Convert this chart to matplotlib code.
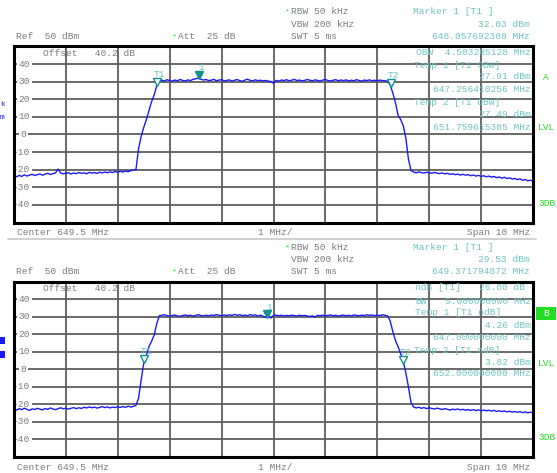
import numpy as np
import matplotlib
matplotlib.use("Agg")
import matplotlib.pyplot as plt
from matplotlib.transforms import ScaledTranslation, blended_transform_factory
from matplotlib.patches import Rectangle
from matplotlib.lines import Line2D

# ---------------- data ----------------
center_mhz = 649.5
span_mhz = 10.0
ref_level = 50
ytick_values = [40, 30, 20, 10, 0, -10, -20, -30, -40]

trace_top = [
    -23.5, -24.0, -23.2, -23.8, -22.9, -23.6, -23.0, -22.6, -23.3, -22.8,
    -22.4, -23.1, -22.5, -22.0, -22.7, -22.2, -21.8, -19.6, -21.9, -22.3,
    -22.0, -21.7, -22.4, -21.9, -22.2, -21.6, -22.0, -21.8, -22.3, -21.5,
    -21.9, -21.6, -22.1, -21.4, -21.8, -21.3, -21.7, -21.2, -21.6, -21.0,
    -21.4, -20.9, -21.3, -20.7, -21.1, -20.5, -20.2,
    -19.8,
    -8.0, -1.0, 4.0, 8.5, 13.5, 18.5, 22.5, 27.5,
    30.2, 30.8, 30.4, 31.1, 30.6, 30.3, 30.9, 30.5, 31.2, 30.7,
    30.4, 31.0, 30.6, 31.3, 31.6, 32.0, 31.4, 30.9, 31.2, 30.6,
    30.8, 31.3, 30.5, 30.9, 31.1, 30.4, 30.7, 31.0, 30.3, 30.8,
    31.2, 30.6, 30.2, 30.9, 31.4, 30.7, 30.5, 31.0, 30.6, 30.8,
    30.4, 30.7, 30.3, 30.1, 29.0, 30.7, 30.3, 30.9, 30.6, 31.1,
    30.5, 30.8, 31.3, 30.6, 30.9, 30.4, 30.7, 31.2, 30.8, 30.5,
    31.0, 30.7, 30.3, 30.9, 31.2, 30.6, 30.4, 30.8, 31.1, 30.5,
    30.9, 30.6, 31.0, 30.4, 30.8, 30.5, 31.1, 30.7, 30.3, 30.9,
    30.6, 31.0, 30.5, 30.8, 30.4, 30.9, 30.6, 30.5, 30.2,
    28.0, 23.5, 18.0, 11.0, 8.5, 5.0, -2.0, -14.0, -20.5,
    -21.3, -21.8, -21.2, -21.6, -21.9, -21.4, -21.7, -22.0, -21.5, -21.9,
    -22.2, -21.8, -22.4, -22.0, -22.6, -22.3, -22.8, -22.5, -23.0, -22.6,
    -23.1, -22.8, -23.4, -23.0, -23.6, -23.2, -23.8, -23.4, -24.0, -23.6,
    -24.2, -23.8, -24.5, -24.1, -24.8, -24.3, -25.0, -24.6, -25.3, -24.9,
    -25.6, -25.2, -26.0, -25.5, -26.3, -25.9, -26.6,
]

trace_bottom = [
    -22.6, -23.2, -22.4, -23.0, -22.1, -22.8, -23.4, -22.5, -22.9, -22.2,
    -22.7, -23.1, -22.3, -22.8, -22.0, -22.6, -23.0, -22.4, -21.9, -22.5,
    -22.1, -22.7, -22.2, -21.8, -22.4, -21.9, -22.3, -21.6, -22.0, -21.4,
    -21.9, -21.5, -22.1, -21.7, -21.2, -21.8, -21.4, -22.0, -21.5, -21.8,
    -21.3, -21.7, -21.2, -21.6, -21.0, -21.5, -21.1,
    -20.5,
    -16.5, -6.0, 3.5, 8.0, 13.0, 16.0, 19.5, 26.0,
    30.6, 30.9, 31.2, 30.7, 30.4, 30.8, 31.0, 30.5, 30.3, 30.7,
    31.1, 30.6, 30.9, 30.4, 30.8, 31.2, 30.7, 30.5, 30.9, 30.6,
    31.0, 30.8, 31.3, 30.9, 30.6, 31.1, 30.7, 31.2, 30.8, 31.4,
    30.9, 31.2, 30.7, 31.0, 30.6, 31.3, 30.8, 31.1, 30.5, 30.9,
    30.3, 29.6, 30.7, 29.3, 30.8, 31.0, 30.6, 30.9, 30.5, 30.8,
    30.6, 31.0, 30.7, 30.4, 30.9, 30.6, 30.8, 30.5, 30.2, 30.6,
    29.8, 30.9, 30.6, 31.0, 30.5, 30.8, 31.1, 30.6, 30.9, 30.4,
    30.8, 31.0, 30.6, 30.9, 30.5, 31.1, 30.8, 30.6, 31.0, 30.7,
    31.2, 30.8, 31.1, 30.6, 31.0, 30.7, 31.2, 30.9, 30.5,
    27.5, 21.5, 16.5, 13.0, 9.0, 4.5, -2.0, -10.0, -19.0,
    -21.5, -22.0, -21.6, -22.2, -21.8, -22.4, -21.9, -22.3, -22.6, -22.1,
    -22.5, -22.9, -22.4, -22.8, -23.2, -22.7, -23.0, -22.6, -23.1, -22.8,
    -23.3, -22.9, -23.4, -23.0, -23.5, -23.1, -23.7, -23.2, -23.6, -23.3,
    -23.8, -23.4, -24.0, -23.6, -24.1, -23.7, -24.3, -23.9, -24.4, -24.0,
    -24.5, -24.1, -24.7, -24.3, -24.8, -24.4, -24.9,
]

top_marker_names = ["1", "T1", "T2"]
top_marker_freqs = [648.057692308, 647.256410256, 651.759615385]
top_marker_levels = [32.03, 27.91, 27.49]

bottom_marker_names = ["1", "T1", "T2"]
bottom_marker_freqs = [649.371794872, 647.0, 652.0]
bottom_marker_levels = [29.53, 4.26, 3.82]

# ---------------- style ----------------
W, H = 557, 473
FONT = "Liberation Mono"
FS = 6.8
GREY = "#7c7c7c"
TEAL = "#6cc4c4"
MK = "#109090"
GREEN = "#22dd22"
BLUE = "#1a1aff"

plt.rcParams["font.family"] = [FONT, "DejaVu Sans Mono"]

fig = plt.figure(figsize=(W / 100, H / 100), dpi=100)
fig.patch.set_facecolor("white")


def T(x, y, s, color=GREY, ha="left", fs=FS, **kw):
    fig.text(x / W, 1 - y / H, s, color=color, ha=ha, va="center",
             fontsize=fs, family=[FONT, "DejaVu Sans Mono"], **kw)


def make_axes(top_px, bot_px):
    return fig.add_axes([14 / W, 1 - bot_px / H, 519 / W, (bot_px - top_px) / H])


def draw_panel(ax, levels, names, mfreqs, mlevels):
    f0 = center_mhz - span_mhz / 2
    f1 = center_mhz + span_mhz / 2
    freqs = np.linspace(f0, f1, len(levels))
    ax.plot(freqs, levels, color=BLUE, lw=1.0, zorder=3)
    ax.set_xlim(f0, f1)
    ax.set_ylim(ref_level - 100, ref_level)
    ax.set_xticks(np.arange(f0, f1 + 0.01, span_mhz / 10))
    ax.set_yticks(ytick_values)
    ax.tick_params(length=0, labelleft=False, labelbottom=False)
    ax.grid(True, color="#5e5e5e", lw=1.3)
    ax.set_axisbelow(True)
    for sp in ax.spines.values():
        sp.set_linewidth(2.2)
        sp.set_color("black")
        sp.set_zorder(4)
    tr = blended_transform_factory(ax.transAxes, ax.transData)
    for v in ytick_values:
        xr = 30 if v != 0 else 26.5
        ax.text((xr - 14) / 519, v, str(v), transform=tr, ha="right", va="center",
                fontsize=FS, color=GREY, zorder=2,
                bbox=dict(boxstyle="square,pad=0.18", fc="white", ec="none"))
    # markers
    up = ax.transData + ScaledTranslation(0, 3.2 / 100, fig.dpi_scale_trans)
    for n, f, l in zip(names, mfreqs, mlevels):
        if n == "1":
            ax.plot([f], [l], marker="v", ms=6, color=MK, mec=MK, transform=up, zorder=5)
        else:
            ax.plot([f], [l], marker="v", ms=5.5, mfc="white", mec=MK, mew=1.0,
                    transform=up, zorder=5)
        ax.annotate(n, (f, l), xytext=(2.5 * 0.72, 10.5 * 0.72), textcoords="offset points",
                    ha="center", va="center", fontsize=FS, color=TEAL, zorder=6)


# ---------------- top panel ----------------
ax1 = make_axes(46.4, 222.6)
draw_panel(ax1, trace_top, top_marker_names, top_marker_freqs, top_marker_levels)

T(285, 12, "*", color=GREEN, fs=6)
T(291, 12, "RBW 50 kHz")
T(291, 24.3, "VBW 200 kHz")
T(291, 36.5, "SWT 5 ms")
T(16, 36.5, "Ref  50 dBm")
T(172, 36.5, "*", color=GREEN, fs=6)
T(178, 36.5, "Att  25 dB")
T(413, 12, "Marker 1 [T1 ]", color=TEAL)
T(530, 24.3, "32.03 dBm", color=TEAL, ha="right")
T(530, 36.5, "648.057692308 MHz", color=TEAL, ha="right")

T(43, 53, "Offset   40.2 dB")
T(531, 52.7, "OBW  4.503205128 MHz", color=TEAL, ha="right")
T(414, 65, "Temp 1 [T1 OBW]", color=TEAL)
T(531, 76.7, "27.91 dBm", color=TEAL, ha="right")
T(531, 90, "647.256410256 MHz", color=TEAL, ha="right")
T(414, 102.7, "Temp 2 [T1 OBW]", color=TEAL)
T(531, 114, "27.49 dBm", color=TEAL, ha="right")
T(531, 127, "651.759615385 MHz", color=TEAL, ha="right")

T(545.5, 77.7, "A", color=GREEN, ha="center")
T(538, 128, "LVL", color=GREEN)
T(538, 203, "3DB", color=GREEN)
T(0, 105, "k", color=BLUE, fs=5.5)
T(0, 117.5, "m", color=BLUE, fs=5.5)

T(17, 232, "Center 649.5 MHz")
T(258, 232, "1 MHz/")
T(530, 232, "Span 10 MHz", ha="right")

fig.add_artist(Line2D([8 / W, 536 / W], [1 - 239.5 / H] * 2, color="#c8c8c8", lw=1.2))

# ---------------- bottom panel ----------------
ax2 = make_axes(281.8, 457)
draw_panel(ax2, trace_bottom, bottom_marker_names, bottom_marker_freqs, bottom_marker_levels)

T(285, 247.7, "*", color=GREEN, fs=6)
T(291, 247.7, "RBW 50 kHz")
T(291, 259.3, "VBW 200 kHz")
T(291, 271.7, "SWT 5 ms")
T(16, 271.7, "Ref  50 dBm")
T(172, 271.7, "*", color=GREEN, fs=6)
T(178, 271.7, "Att  25 dB")
T(413, 247.7, "Marker 1 [T1 ]", color=TEAL)
T(530, 259.3, "29.53 dBm", color=TEAL, ha="right")
T(530, 271.7, "649.371794872 MHz", color=TEAL, ha="right")

T(43, 288.5, "Offset   40.2 dB")
T(415, 287.3, "ndB [T1]", color=TEAL)
T(525, 287.3, "26.00 dB", color=TEAL, ha="right")
T(415, 301, "BW", color=TEAL)
T(531, 301, "5.000000000 MHz", color=TEAL, ha="right")
T(415, 312.7, "Temp 1 [T1 ndB]", color=TEAL)
T(531, 325, "4.26 dBm", color=TEAL, ha="right")
T(531, 337, "647.000000000 MHz", color=TEAL, ha="right")
T(414, 350, "Temp 2 [T1 ndB]", color=TEAL)
T(531, 362, "3.82 dBm", color=TEAL, ha="right")
T(531, 374, "652.000000000 MHz", color=TEAL, ha="right")

fig.add_artist(Rectangle((536 / W, 1 - 319.5 / H), 20 / W, 12.5 / H,
                         transform=fig.transFigure, fc=GREEN, ec="none"))
T(546, 313.3, "B", color="white", ha="center")
T(538, 363, "LVL", color=GREEN)
T(538, 437, "3DB", color=GREEN)
fig.add_artist(Rectangle((0, 1 - 344 / H), 4.5 / W, 7.5 / H,
                         transform=fig.transFigure, fc=BLUE, ec="none"))
fig.add_artist(Rectangle((0, 1 - 358 / H), 4.5 / W, 7.5 / H,
                         transform=fig.transFigure, fc=BLUE, ec="none"))

T(17, 467, "Center 649.5 MHz")
T(258, 467, "1 MHz/")
T(530, 467, "Span 10 MHz", ha="right")

fig.savefig("out.png", dpi=100, facecolor="white")
